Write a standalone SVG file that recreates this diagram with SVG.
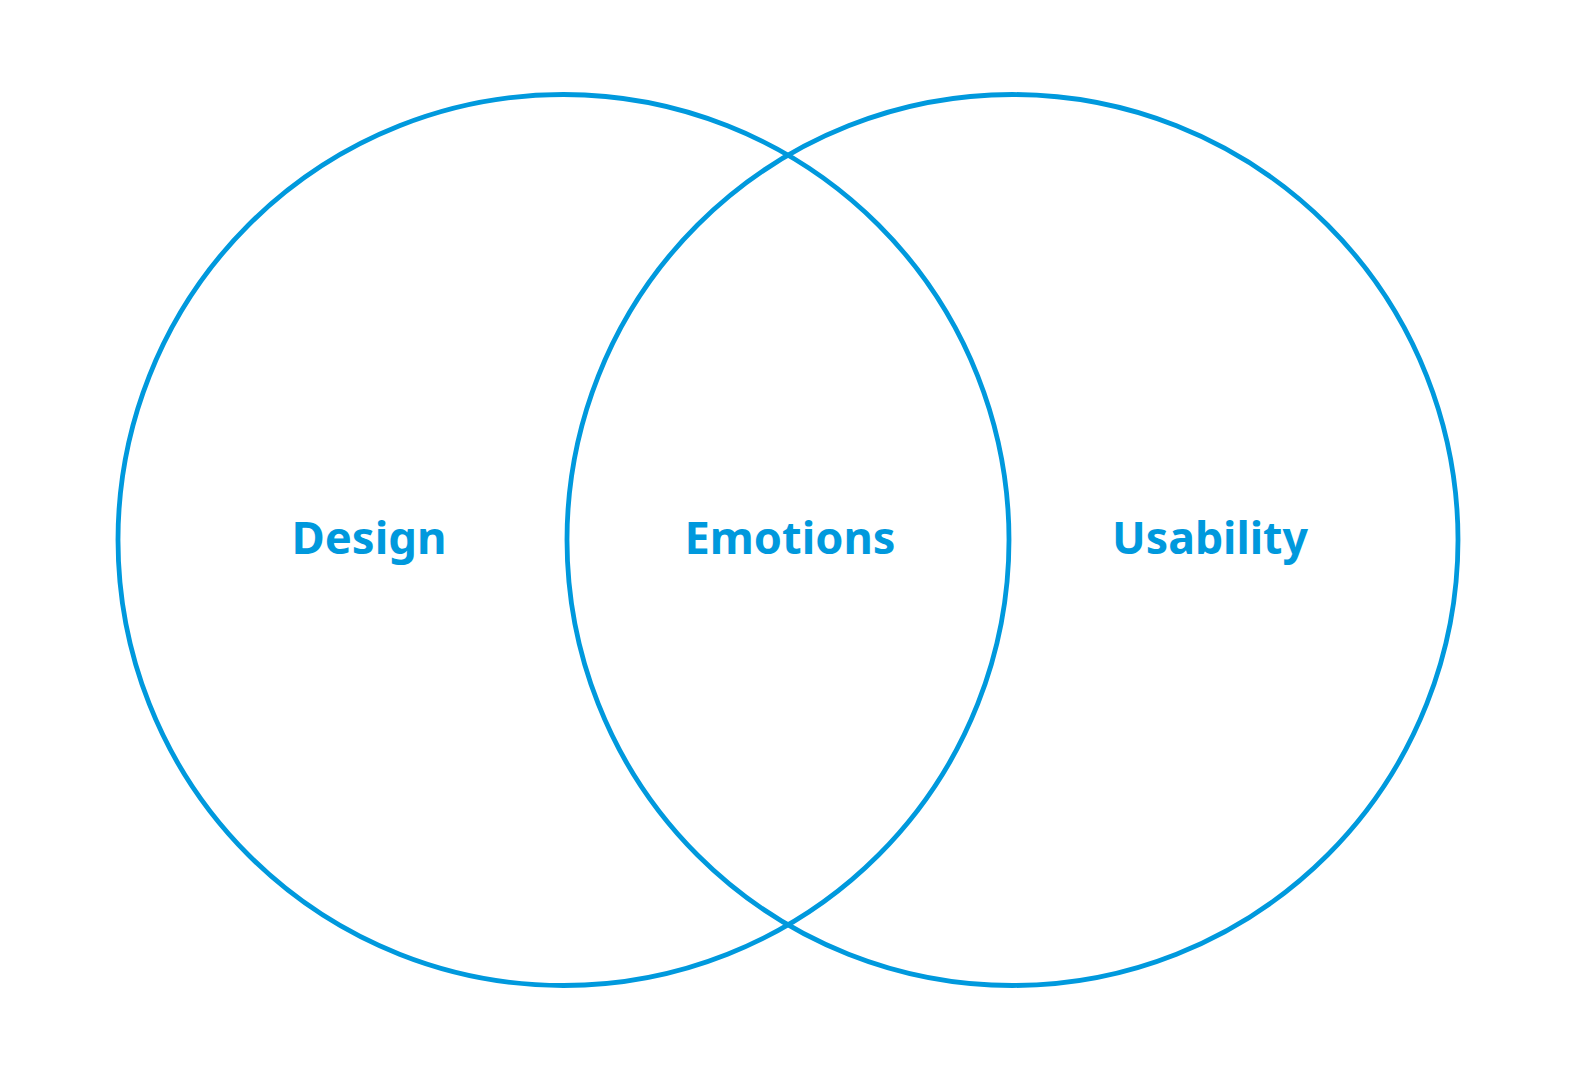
<svg xmlns="http://www.w3.org/2000/svg" width="1578" height="1080" viewBox="0 0 1578 1080">
  <style>
    .ring { fill: none; stroke: #0099DD; stroke-width: 4.8; }
    .label { font-family: "Noto Sans", "Open Sans", "Liberation Sans", sans-serif; font-weight: 700; font-size: 45px; fill: #0099DD; text-anchor: middle; }
  </style>
  <rect width="1578" height="1080" fill="#FFFFFF"/>
  <g id="connectors"/>
  <g id="design">
    <circle class="ring" cx="563.5" cy="540" r="445.5"/>
    <text class="label" x="369" y="554" textLength="155" lengthAdjust="spacingAndGlyphs">Design</text>
  </g>
  <g id="usability">
    <circle class="ring" cx="1012.5" cy="540" r="445.5"/>
    <text class="label" x="1210" y="554" textLength="196" lengthAdjust="spacingAndGlyphs">Usability</text>
  </g>
  <g id="emotions">
    <text class="label" x="790" y="554" textLength="211" lengthAdjust="spacingAndGlyphs">Emotions</text>
  </g>
</svg>
